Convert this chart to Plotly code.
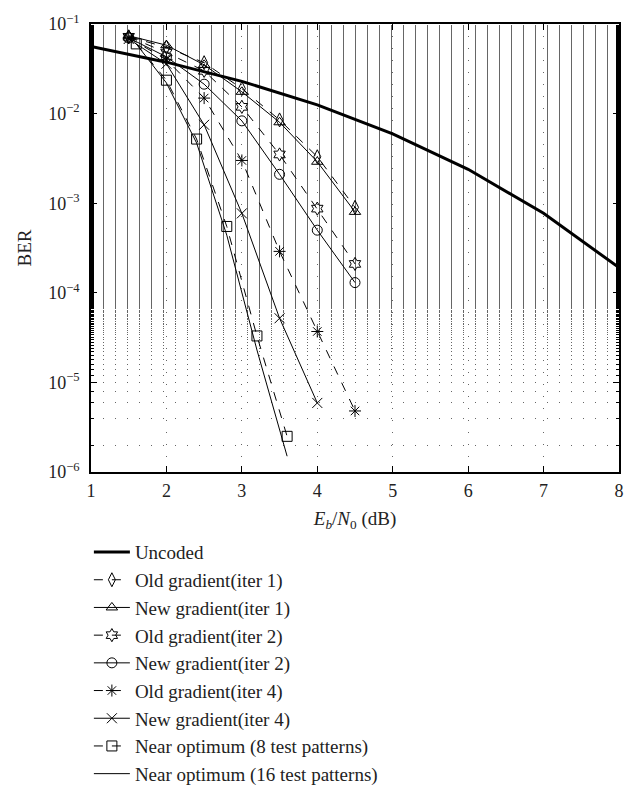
import plotly.graph_objects as go

# ---- data ----
snr_uncoded = [1, 2, 3, 4, 5, 6, 7, 8]
ber_uncoded = [0.0563, 0.0375, 0.0229, 0.0125, 0.00595, 0.00239, 0.000773, 0.000191]

snr_grad = [1.5, 2.0, 2.5, 3.0, 3.5, 4.0, 4.5]
ber_old_it1 = [0.072, 0.055, 0.037, 0.019, 0.0085, 0.0033, 0.00090]
ber_new_it1 = [0.074, 0.058, 0.035, 0.0175, 0.0080, 0.0029, 0.00080]
ber_old_it2 = [0.072, 0.048, 0.030, 0.0119, 0.0035, 0.00087, 0.00021]
ber_new_it2 = [0.070, 0.043, 0.0213, 0.0083, 0.0021, 0.00050, 0.00013]
ber_old_it4 = [0.070, 0.040, 0.0149, 0.0030, 0.00029, 0.000037, 0.0000048]
snr_new_it4 = [1.5, 2.0, 2.5, 3.0, 3.5, 4.0]
ber_new_it4 = [0.068, 0.036, 0.0075, 0.00077, 0.000052, 0.0000059]

snr_opt = [1.6, 2.0, 2.4, 2.8, 3.2, 3.6]
ber_opt8 = [0.060, 0.0236, 0.0052, 0.00055, 0.000033, 0.0000025]
ber_opt16 = [0.060, 0.022, 0.0047, 0.00044, 0.000023, 0.0000015]

y_tickvals = [1e-6, 1e-5, 1e-4, 1e-3, 1e-2, 1e-1]
y_ticktext = ["10<sup>−6</sup>", "10<sup>−5</sup>", "10<sup>−4</sup>", "10<sup>−3</sup>",
              "10<sup>−2</sup>", "10<sup>−1</sup>"]
x_tickvals = [1, 2, 3, 4, 5, 6, 7, 8]

FONT = "Liberation Serif"
BLACK = "black"
TXT = "#222"
GRID = "#666"

series = [
    ("Uncoded", snr_uncoded, ber_uncoded, "lines", "solid", 3, None),
    ("Old gradient(iter 1)", snr_grad, ber_old_it1, "lines+markers", "dash", 1, "diamond-tall-open"),
    ("New gradient(iter 1)", snr_grad, ber_new_it1, "lines+markers", "solid", 1, "triangle-up-open"),
    ("Old gradient(iter 2)", snr_grad, ber_old_it2, "lines+markers", "dash", 1, "hexagram-open"),
    ("New gradient(iter 2)", snr_grad, ber_new_it2, "lines+markers", "solid", 1, "circle-open"),
    ("Old gradient(iter 4)", snr_grad, ber_old_it4, "lines+markers", "dash", 1, "asterisk-open"),
    ("New gradient(iter 4)", snr_new_it4, ber_new_it4, "lines+markers", "solid", 1, "x-thin-open"),
    ("Near optimum (8 test patterns)", snr_opt, ber_opt8, "lines+markers", "dash", 1, "square-open"),
    ("Near optimum (16 test patterns)", snr_opt, ber_opt16, "lines", "solid", 1, None),
]

fig = go.Figure()
for name, xs, ys, mode, dash, w, sym in series:
    kw = dict(x=xs, y=ys, name=name, mode=mode,
              line=dict(color=BLACK, width=w, dash=dash))
    if sym:
        kw["marker"] = dict(symbol=sym, size=10, color=BLACK,
                            line=dict(color=BLACK, width=1))
    fig.add_trace(go.Scatter(**kw))

axis_common = dict(
    showline=True, linecolor=BLACK, linewidth=1.5, mirror="allticks",
    ticks="inside", ticklen=6, tickcolor=BLACK, tickwidth=1,
    showgrid=True, gridcolor=GRID, gridwidth=1, griddash="1px,11px",
    zeroline=False, tickfont=dict(family=FONT, size=18, color=TXT),
)

fig.update_xaxes(range=[1, 8], tickvals=x_tickvals, **axis_common,
                 ticklabelstandoff=2,
                 title=dict(text="<i>E</i><sub><i>b</i></sub>/<i>N</i><sub>0</sub> (dB)",
                            font=dict(family=FONT, size=19, color=TXT), standoff=11))
fig.update_yaxes(type="log", range=[-6, -1], tickvals=y_tickvals, ticktext=y_ticktext,
                 **axis_common, ticklabelstandoff=6,
                 minor=dict(ticks="inside", ticklen=3, tickcolor=BLACK, showgrid=True,
                            gridcolor=GRID, griddash="1px,11px", gridwidth=1),
                 title=dict(text="BER", font=dict(family=FONT, size=19, color=TXT), standoff=12))

fig.update_layout(
    width=637, height=805,
    margin=dict(l=91, r=18, t=12, b=317),
    paper_bgcolor="white", plot_bgcolor="white",
    font=dict(family=FONT, size=19, color=TXT),
    showlegend=True,
    legend=dict(x=-0.004, xanchor="left", y=-0.1366, yanchor="top",
                traceorder="normal", itemwidth=36,
                font=dict(family=FONT, size=19, color=TXT),
                bgcolor="rgba(0,0,0,0)"),
)

fig.write_html("out.html")
